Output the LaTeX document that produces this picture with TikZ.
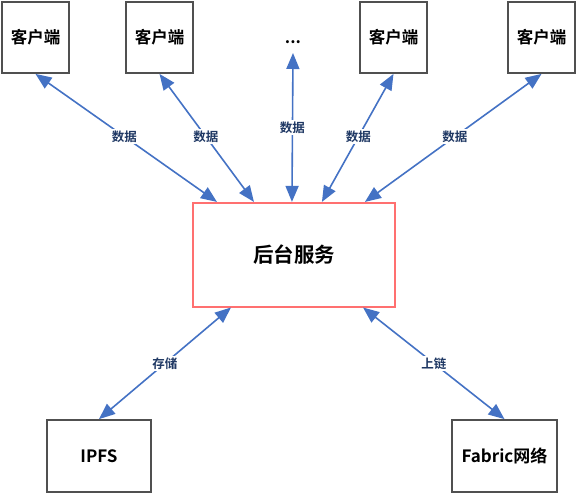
\documentclass[tikz,border=0pt]{standalone}
\usepackage{fontspec}
\setmainfont{Noto Sans CJK SC}
\newfontfamily\cjkb{Noto Sans CJK SC Bold}
\usetikzlibrary{arrows.meta}
\definecolor{arrowblue}{HTML}{4472C4}
\definecolor{labelnavy}{HTML}{1F3864}
\definecolor{boxgray}{HTML}{505050}
\definecolor{bkred}{HTML}{FF7070}
\begin{document}
\begin{tikzpicture}[x=1pt,y=-1pt,
  client/.style={draw=boxgray,line width=1.8pt,minimum width=67pt,minimum height=71pt,inner sep=0pt,font=\cjkb\fontsize{16.5}{17}\selectfont},
  bottombox/.style={draw=boxgray,line width=1.8pt,minimum height=72pt,inner sep=0pt,font=\cjkb\fontsize{17}{18}\selectfont},
  backend/.style={draw=bkred,line width=1.6pt,minimum width=202.5pt,minimum height=104pt,inner sep=0pt,font=\cjkb\fontsize{20.5}{21}\selectfont},
  link/.style={draw=arrowblue,line width=1.6pt,{Triangle[length=16pt,width=13pt]}-{Triangle[length=16pt,width=13pt]}},
  lbl/.style={fill=white,inner sep=1.5pt,text=labelnavy,font=\cjkb\fontsize{12.5}{13}\selectfont}
]
\useasboundingbox (0,0) rectangle (576,493);
\node[client] (c1) at (35.5,37.5) {客户端};
\node[client] (c2) at (159.5,37.5) {客户端};
\node[font=\cjkb\fontsize{16.5}{17}\selectfont,inner sep=0pt] (dots) at (293,42) {...};
\coordinate (dotsend) at (293,53);
\node[client] (c3) at (393.5,37.5) {客户端};
\node[client] (c4) at (541.5,37.5) {客户端};
\node[backend] (bk) at (294,254.7) {后台服务};
\node[bottombox,minimum width=104pt] (ipfs) at (99,456) {IPFS};
\node[bottombox,minimum width=105pt] (fab) at (504.5,456) {Fabric网络};

\draw[link] (c1.south) -- ([xshift=25pt]bk.north west) node[lbl,pos=0.49] {数据};
\draw[link] (c2.south) -- ([xshift=62pt]bk.north west) node[lbl,pos=0.49] {数据};
\draw[link] (dotsend) -- ([xshift=100pt]bk.north west) node[lbl,pos=0.5] {数据};
\draw[link] (c3.south) -- ([xshift=130pt]bk.north west) node[lbl,pos=0.49] {数据};
\draw[link] (c4.south) -- ([xshift=173pt]bk.north west) node[lbl,pos=0.49] {数据};
\draw[link] ([xshift=39pt]bk.south west) -- (ipfs.north) node[lbl,pos=0.5] {存储};
\draw[link] ([xshift=-33pt]bk.south east) -- (fab.north) node[lbl,pos=0.5] {上链};
\end{tikzpicture}
\end{document}
